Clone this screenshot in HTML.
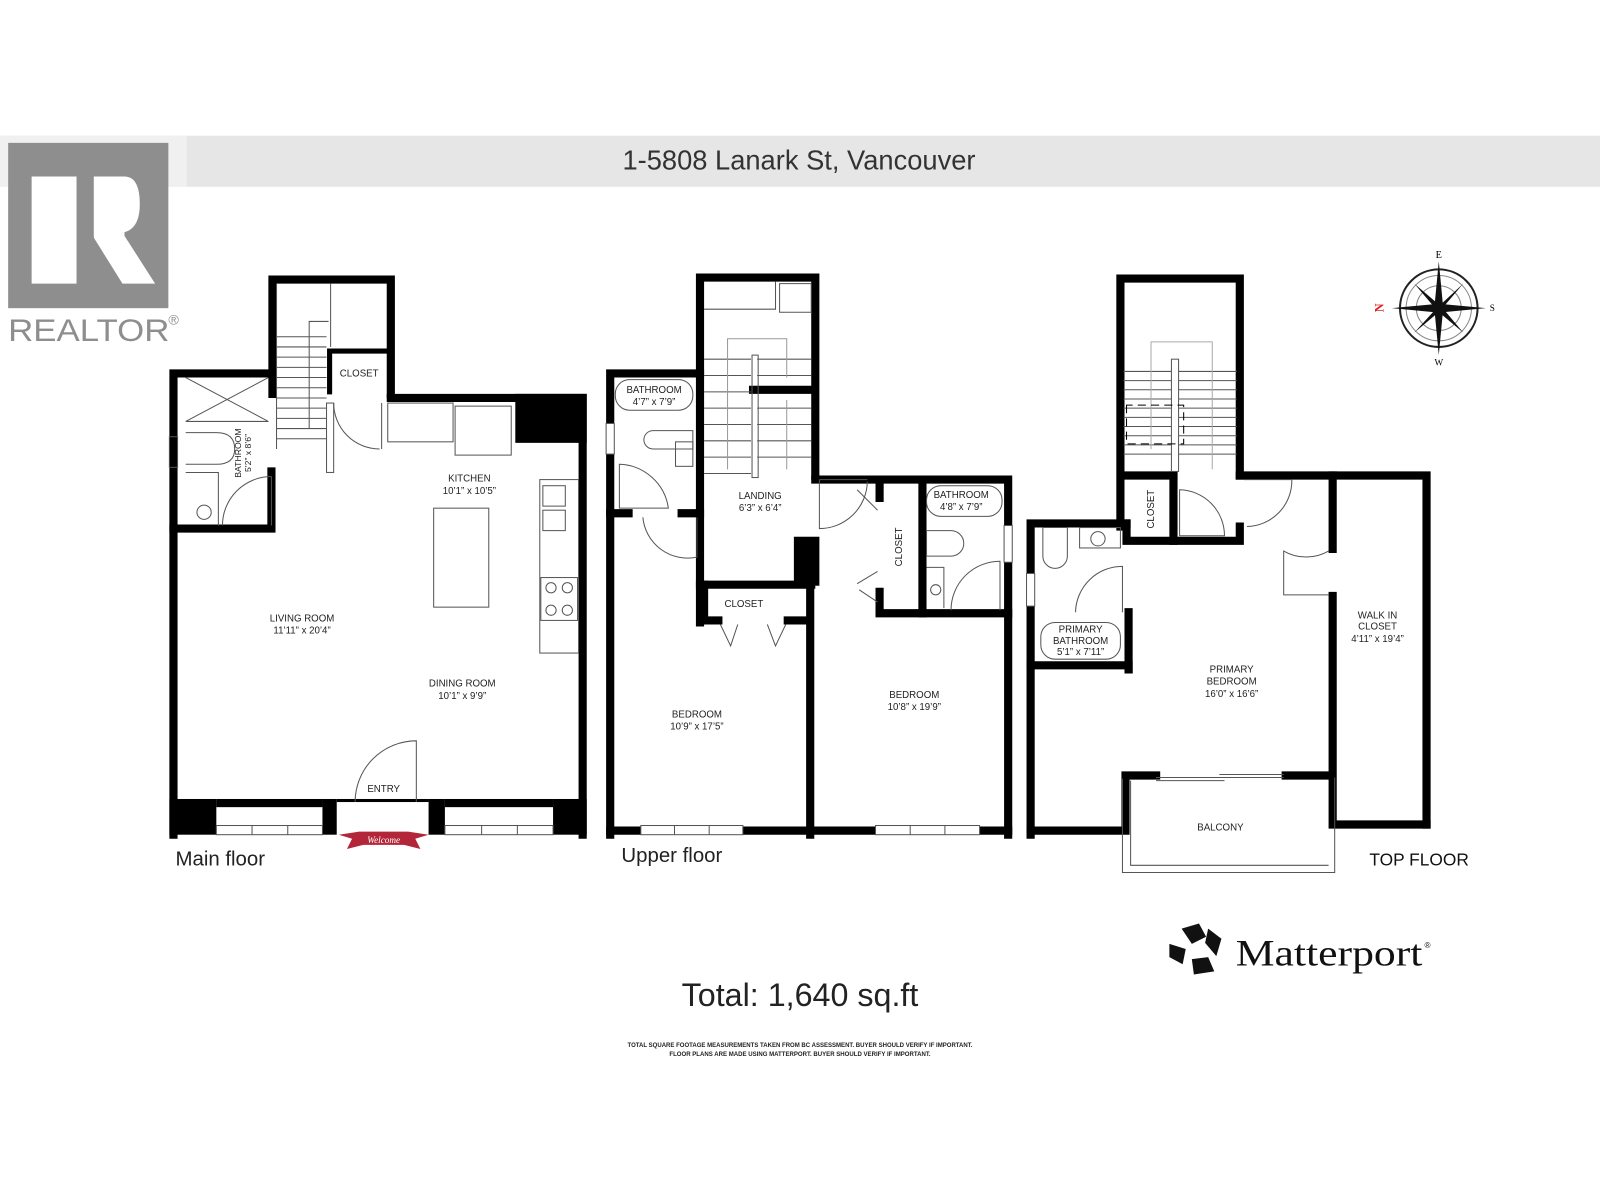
<!DOCTYPE html>
<html><head><meta charset="utf-8"><style>
html,body{margin:0;padding:0;background:#fff;}
svg{display:block;}
text{font-family:"Liberation Sans",sans-serif;}
.serif{font-family:"Liberation Serif",serif;}
</style></head><body>
<svg width="1600" height="1200" viewBox="0 0 1568 1176" xmlns="http://www.w3.org/2000/svg">
<rect width="1568" height="1176" fill="#fff"/>
<!-- header -->
<rect x="0" y="133" width="1568" height="50" fill="#e6e6e6"/>
<rect x="0" y="133" width="183" height="50" fill="#f0f0f0"/>
<text x="783" y="166" font-size="27" text-anchor="middle" fill="#333" textLength="346" lengthAdjust="spacingAndGlyphs">1-5808 Lanark St, Vancouver</text>
<!-- realtor logo -->
<rect x="8" y="140" width="157" height="162" fill="#8e8e8e"/>
<path d="M31,173 H75 V278 H31 Z" fill="#fff"/>
<path d="M92,173 H122 Q137,173 137,200 Q137,225 120,228 L152,278 H120 L92,233 V278 H92 Z" fill="#fff"/>
<rect x="92" y="173" width="30" height="58" fill="#fff"/>
<text x="8" y="334" font-size="31" fill="#8e8e8e" textLength="158" lengthAdjust="spacingAndGlyphs">REALTOR</text>
<text x="165" y="318" font-size="14" fill="#8e8e8e">®</text>

<g fill="none" stroke="#000" stroke-width="8" stroke-linecap="square">
<!-- MAIN FLOOR -->
<polyline points="267,386 267,274 383,274 383,386"/>
<polyline points="170,818 170,366 267,366"/>
<polyline points="170,518 266,518 266,462"/>
<polyline points="383,390 571,390 571,818"/>
<polyline points="323,384 323,344 383,344" stroke-width="5"/>
</g>
<g fill="#000">
<rect x="505" y="386" width="70" height="48"/>
<rect x="166" y="783" width="46" height="35"/>
<rect x="542" y="783" width="33" height="35"/>
<rect x="212" y="783" width="104" height="8"/>
<rect x="436" y="783" width="106" height="8"/>
<rect x="316" y="783" width="14" height="35"/>
<rect x="420" y="783" width="16" height="35"/>
<rect x="330" y="783" width="90" height="3"/>
</g>
<g fill="none" stroke="#555" stroke-width="1">
<rect x="212" y="809" width="104" height="9"/><line x1="247" y1="809" x2="247" y2="818"/><line x1="282" y1="809" x2="282" y2="818"/>
<rect x="436" y="809" width="106" height="9"/><line x1="472" y1="809" x2="472" y2="818"/><line x1="507" y1="809" x2="507" y2="818"/>
<path d="M271,440 V278 M324,278 V340 M271,330 H320 M271,340 H320 M271,350 H320 M271,360 H320 M271,370 H320 M271,380 H320 M271,390 H320 M271,400 H320 M271,410 H320 M271,420 H320 M271,430 H320"/>
<path d="M303,420 V315 H322"/>
<rect x="320" y="395" width="7" height="68"/>
<rect x="380" y="395" width="64" height="38"/>
<rect x="446" y="398" width="55" height="48"/>
<path d="M327,395 A45,45 0 0,0 372,440 M374,395 V440"/>
<rect x="425" y="498" width="54" height="97"/>
<rect x="529" y="470" width="38" height="170"/>
<rect x="532" y="476" width="22" height="20"/><rect x="532" y="500" width="22" height="20"/>
<rect x="530" y="566" width="36" height="42"/>
<circle cx="540" cy="576" r="5"/><circle cx="556" cy="576" r="5"/><circle cx="540" cy="598" r="5"/><circle cx="556" cy="598" r="5"/>
<path d="M182,370 L263,413 M263,370 L182,413 M182,413 H263"/>
<path d="M182,424 H212 Q230,424 230,440 Q230,455 212,455 H182"/>
<path d="M182,463 H214 V515"/>
<circle cx="200" cy="502" r="7"/>
<path d="M218,515 A48,48 0 0,1 266,467 M266,467 V515"/>
<rect x="166" y="428" width="8" height="30"/>
<path d="M348,786 A60,60 0 0,1 408,726 V786"/>
</g>
<g font-size="9.5" fill="#222" text-anchor="middle">
<text x="352" y="369">CLOSET</text>
<text x="460" y="472">KITCHEN</text><text x="460" y="484">10’1” x 10’5”</text>
<text x="296" y="609">LIVING ROOM</text><text x="296" y="621">11’11” x 20’4”</text>
<text x="453" y="673">DINING ROOM</text><text x="453" y="685">10’1” x 9’9”</text>
<text x="376" y="776">ENTRY</text>
<text transform="translate(236,444) rotate(-90)" font-size="8.5">BATHROOM</text>
<text transform="translate(246,444) rotate(-90)" font-size="8.5">5’2” x 8’6”</text>
</g>
<path d="M332,818 L345,822 L340,832 L356,828 H396 L412,832 L407,822 L420,818 L400,815 H352 Z" fill="#b3263a"/>
<text x="376" y="826" font-size="9" fill="#fff" text-anchor="middle" font-style="italic" class="serif">Welcome</text>
<text x="172" y="848" font-size="20" fill="#222">Main floor</text>

<!-- UPPER FLOOR -->
<g fill="none" stroke="#000" stroke-width="8" stroke-linecap="square">
<polyline points="686,610 686,272 799,272 799,466"/>
<polyline points="598,818 598,366 686,366"/>
<polyline points="598,503 616,503"/><polyline points="668,503 686,503"/>
<polyline points="686,573 795,573"/>
<polyline points="690,573 690,608 704,608"/><polyline points="772,608 790,608"/>
<polyline points="794,573 794,818"/>
<polyline points="799,470 988,470 988,818"/>
<polyline points="862,470 862,488"/><polyline points="862,580 862,601 988,601"/>
<polyline points="904,470 904,601"/>
<polyline points="598,814 988,814"/>
<polyline points="738,382 795,382"/>
</g>
<rect x="778" y="526" width="25" height="48" fill="#000"/>
<g fill="#fff" stroke="#555" stroke-width="1">
<rect x="628" y="809" width="100" height="9"/><line x1="661" y1="809" x2="661" y2="818"/><line x1="695" y1="809" x2="695" y2="818"/>
<rect x="858" y="809" width="102" height="9"/><line x1="892" y1="809" x2="892" y2="818"/><line x1="926" y1="809" x2="926" y2="818"/>
<rect x="594" y="415" width="8" height="30"/><rect x="984" y="515" width="8" height="36"/>
</g>
<g fill="none" stroke="#555" stroke-width="1">
<path d="M690,303 H760 V276 M764,278 H795 V306 H764 Z"/>
<path d="M690,352 H736 M690,368 H736 M690,384 H736 M690,400 H736 M690,416 H736 M690,432 H736 M690,448 H736 M690,464 H736 M742,352 H795 M742,368 H795 M742,400 H795 M742,416 H795 M742,432 H795 M742,448 H795"/>
<rect x="737" y="348" width="6" height="120"/>
<path d="M713,460 V332 H771 V370 M771,392 V460" stroke="#999"/>
<rect x="603" y="372" width="76" height="30" rx="14"/>
<path d="M640,422 H679 V440 H640 A9,9 0 0,1 640,422 Z"/>
<rect x="662" y="433" width="17" height="24"/>
<path d="M607,455 A50,50 0 0,1 655,498 H607 Z"/>
<path d="M630,507 A44,44 0 0,0 683,546 V507"/>
<path d="M803,470 H850 M803,470 V518 A47,47 0 0,0 850,472 M840,480 L860,500 M840,572 L860,560 M842,578 L860,590"/>
<path d="M706,612 L716,633 L723,612 M752,612 L760,633 L770,612"/>
<rect x="908" y="476" width="74" height="30" rx="14"/>
<path d="M908,520 H932 A10,10 0 0,1 932,545 H908 Z"/>
<path d="M908,556 H925 V596"/><circle cx="917" cy="578" r="5"/>
<path d="M932,598 A48,48 0 0,1 980,550 V598"/>
</g>
<g font-size="9.5" fill="#222" text-anchor="middle">
<text x="641" y="385">BATHROOM</text><text x="641" y="397">4’7” x 7’9”</text>
<text x="745" y="489">LANDING</text><text x="745" y="501">6’3” x 6’4”</text>
<text x="942" y="488">BATHROOM</text><text x="942" y="500">4’8” x 7’9”</text>
<text transform="translate(884,536) rotate(-90)">CLOSET</text>
<text x="729" y="595">CLOSET</text>
<text x="683" y="703">BEDROOM</text><text x="683" y="715">10’9” x 17’5”</text>
<text x="896" y="684">BEDROOM</text><text x="896" y="696">10’8” x 19’9”</text>
</g>
<text x="609" y="845" font-size="20" fill="#222">Upper floor</text>

<!-- TOP FLOOR -->
<g fill="none" stroke="#000" stroke-width="8" stroke-linecap="square">
<polyline points="1098,516 1098,273 1215,273 1215,466"/>
<polyline points="1010,818 1010,513 1104,513"/>
<polyline points="1010,652 1106,652 1106,656"/>
<polyline points="1104,513 1104,530 1150,530 1150,466"/><polyline points="1150,530 1215,530 1215,516"/>
<polyline points="1104,466 1150,466"/>
<polyline points="1215,466 1398,466 1398,808"/>
<polyline points="1306,466 1306,538"/><polyline points="1306,584 1306,808 1398,808"/>
<polyline points="1010,814 1103,814 1103,760 1133,760"/>
<polyline points="1260,760 1302,760"/>
<polyline points="1106,600 1106,656"/>
</g>
<g fill="none" stroke="#555" stroke-width="1">
<path d="M1100,763 V855 H1308 V762 M1108,765 V848 H1302"/>
<path d="M1133,762 H1258 M1133,765 H1200 M1195,759 H1258"/>
<path d="M1101,364 H1212 M1101,373 H1212 M1101,382 H1212 M1101,391 H1212 M1101,400 H1212 M1101,409 H1212 M1101,418 H1212 M1101,427 H1212 M1101,436 H1212 M1101,445 H1212"/>
<path d="M1128,440 V335 H1188 V460" stroke="#aaa"/>
<rect x="1148" y="352" width="7" height="110" fill="#fff"/>
<path d="M1104,397 V435 H1160 V397 Z" stroke="#000" stroke-dasharray="8,5"/>
<path d="M1156,480 A45,45 0 0,1 1200,525 H1156 Z"/>
<path d="M1219,470 H1266 A45,45 0 0,1 1222,516"/>
<path d="M1302,540 A44,44 0 0,1 1258,540 V583 H1302" />
<path d="M1022,517 H1046 V545 A12,12 0 0,1 1022,545 Z"/>
<rect x="1058" y="517" width="40" height="20"/><circle cx="1076" cy="528" r="7"/>
<path d="M1054,600 A46,46 0 0,1 1100,555 V600"/>
<rect x="1020" y="610" width="78" height="36" rx="14"/>
<rect x="1006" y="562" width="8" height="32" fill="#fff"/>
</g>
<g font-size="9.5" fill="#222" text-anchor="middle">
<text transform="translate(1131,499) rotate(-90)">CLOSET</text>
<text x="1059" y="620">PRIMARY</text><text x="1059" y="631">BATHROOM</text><text x="1059" y="642">5’1” x 7’11”</text>
<text x="1207" y="659">PRIMARY</text><text x="1207" y="671">BEDROOM</text><text x="1207" y="683">16’0” x 16’6”</text>
<text x="1350" y="606">WALK IN</text><text x="1350" y="617">CLOSET</text><text x="1350" y="629">4’11” x 19’4”</text>
<text x="1196" y="814">BALCONY</text>
</g>
<text x="1342" y="848" font-size="17" fill="#111">TOP FLOOR</text>

<!-- compass -->
<g transform="translate(1410,302)">
<circle r="38" fill="none" stroke="#222" stroke-width="2"/>
<circle r="32" fill="none" stroke="#888" stroke-width="1"/>
<circle r="22" fill="none" stroke="#888" stroke-width="1"/>
<path d="M0,-46 L4,-4 L46,0 L4,4 L0,46 L-4,4 L-46,0 L-4,-4 Z" fill="#111"/>
<path d="M-24,-24 L3,-1 L24,24 L-1,3 Z M24,-24 L1,3 L-24,24 L-3,1 Z" fill="#111"/>
<text x="0" y="-49" font-size="10" text-anchor="middle" class="serif">E</text>
<text x="-62" y="4" font-size="12" fill="#d22" font-weight="bold" class="serif" transform="rotate(-90,-58,0)">N</text>
<text x="50" y="3" font-size="9" class="serif">S</text>
<text x="0" y="56" font-size="9" text-anchor="middle" class="serif">W</text>
</g>

<!-- matterport -->
<g fill="#111">
<path d="M1158,910 L1175,905 L1182,918 L1168,925 Z"/>
<path d="M1184,910 L1197,920 L1192,937 L1181,924 Z"/>
<path d="M1146,925 L1162,930 L1159,945 L1146,938 Z"/>
<path d="M1168,940 L1184,938 L1190,952 L1170,955 Z"/>
</g>
<text x="1211" y="946" font-size="36" fill="#111" class="serif" textLength="183" lengthAdjust="spacingAndGlyphs">Matterport</text>
<text x="1396" y="929" font-size="8" fill="#111">®</text>

<text x="784" y="986" font-size="32" fill="#222" text-anchor="middle" textLength="232" lengthAdjust="spacingAndGlyphs">Total: 1,640 sq.ft</text>
<text x="784" y="1026" font-size="6.5" fill="#222" text-anchor="middle" font-weight="bold" textLength="338" lengthAdjust="spacingAndGlyphs">TOTAL SQUARE FOOTAGE MEASUREMENTS TAKEN FROM BC ASSESSMENT. BUYER SHOULD VERIFY IF IMPORTANT.</text>
<text x="784" y="1035" font-size="6.5" fill="#222" text-anchor="middle" font-weight="bold" textLength="256" lengthAdjust="spacingAndGlyphs">FLOOR PLANS ARE MADE USING MATTERPORT. BUYER SHOULD VERIFY IF IMPORTANT.</text>
</svg>
</body></html>
